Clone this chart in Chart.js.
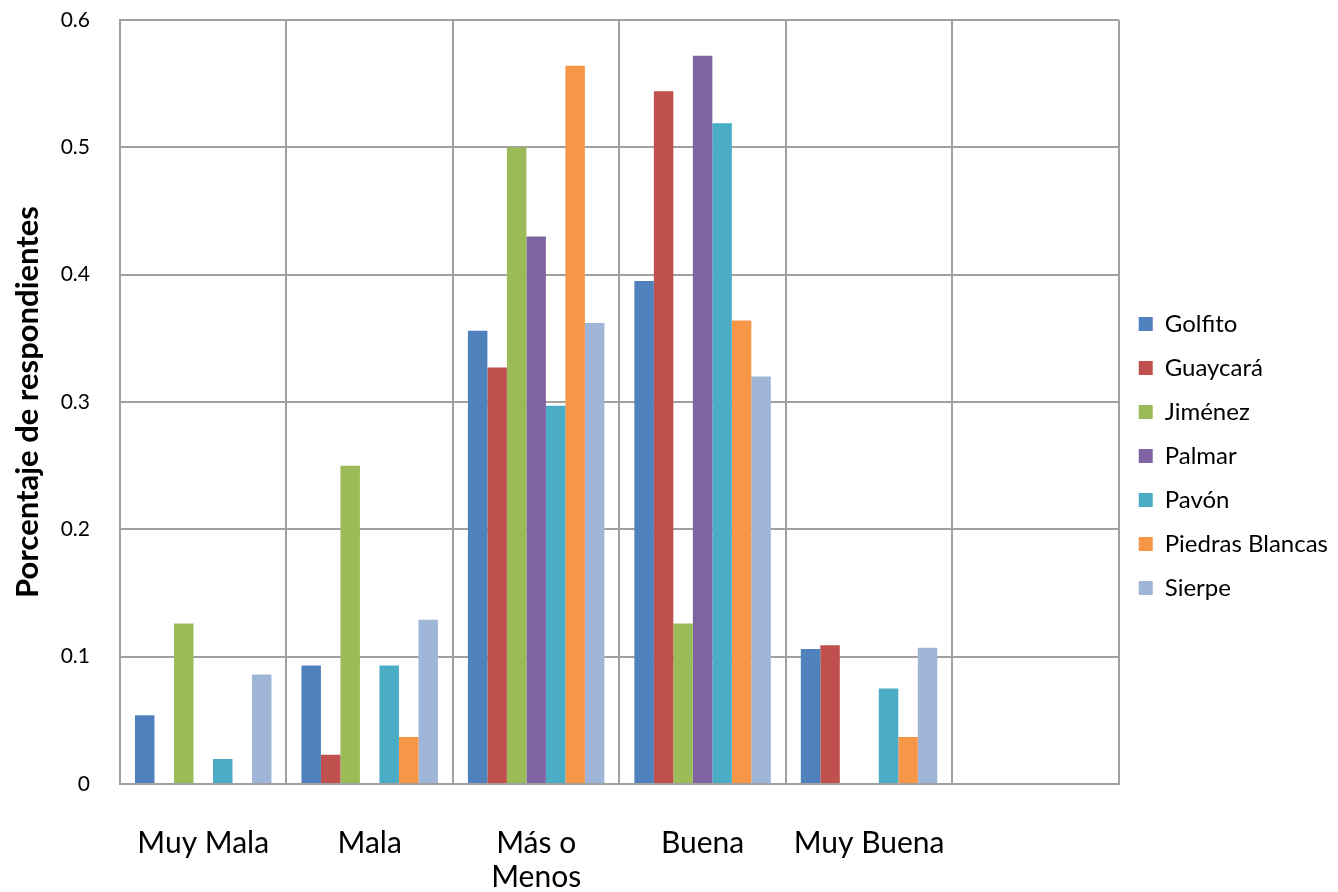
<!DOCTYPE html>
<html>
<head>
<meta charset="utf-8">
<script src="https://cdn.jsdelivr.net/npm/chart.js@4/dist/chart.umd.min.js"></script>
<style>
  body { margin: 0; background: #fff; }
  #wrap { width: 1338px; height: 892px; }
</style>
</head>
<body>
<div id="wrap"><canvas id="chartID"></canvas></div>
<script>
const categories = ['Muy Mala', 'Mala', ['Más o', 'Menos'], 'Buena', 'Muy Buena', '']

const golfito = [0.054, 0.093, 0.356, 0.395, 0.106, null]
const guaycara = [0, 0.023, 0.327, 0.544, 0.109, null]
const jimenez = [0.126, 0.25, 0.5, 0.126, 0, null]
const palmar = [0, 0, 0.43, 0.572, 0, null]
const pavon = [0.0196, 0.093, 0.297, 0.519, 0.075, null]
const piedrasBlancas = [0, 0.037, 0.564, 0.364, 0.037, null]
const sierpe = [0.086, 0.129, 0.362, 0.32, 0.107, null]

const seriesNames = ['Golfito', 'Guaycará', 'Jiménez', 'Palmar', 'Pavón', 'Piedras Blancas', 'Sierpe']
const seriesValues = [golfito, guaycara, jimenez, palmar, pavon, piedrasBlancas, sierpe]
const seriesColors = ['#4F81BD', '#C0504D', '#9BBB59', '#8064A2', '#4BACC6', '#F79646', '#A0B6D8']

const yTicks = [0, 0.1, 0.2, 0.3, 0.4, 0.5, 0.6]

const datasets = seriesNames.map(function(name, i) {
	return {
		label: name,
		data: seriesValues[i],
		backgroundColor: seriesColors[i],
		borderWidth: 0,
		categoryPercentage: 0.82,
		barPercentage: 1.0,
	}
})

const fontFamily = "Lato, 'Open Sans', sans-serif"

let chartCtx = document.getElementById('chartID').getContext('2d')
let barChart = new Chart(chartCtx, {
	type: 'bar',
	data: { labels: categories, datasets: datasets },
	options: {
		responsive: true,
		maintainAspectRatio: false,
		animation: false,
		layout: { padding: { top: 20, right: 0, left: 0, bottom: 0 } },
		plugins: {
			legend: {
				position: 'right',
				align: 'center',
				labels: {
					boxWidth: 14,
					boxHeight: 14,
					padding: 20,
					color: '#000',
					font: { family: fontFamily, size: 24 },
				},
			},
			tooltip: { enabled: false },
		},
		scales: {
			x: {
				offset: true,
				grid: { offset: true, color: '#a0a0a0', lineWidth: 2, drawTicks: false },
				border: { color: '#a0a0a0', width: 2 },
				afterFit: function(scale) { scale.height = 108 },
				ticks: {
					padding: 42,
					color: '#000',
					maxRotation: 0,
					autoSkip: false,
					font: { family: fontFamily, size: 30, lineHeight: 1.15 },
				},
			},
			y: {
				min: 0,
				max: 0.6,
				afterBuildTicks: function(axis) {
					axis.ticks = yTicks.map(function(v) { return { value: v } })
				},
				afterFit: function(scale) {
					scale.width = 120
					scale.paddingTop = 12
					scale.paddingBottom = 12
				},
				grid: { color: '#a0a0a0', lineWidth: 2, drawTicks: false },
				border: { color: '#a0a0a0', width: 2 },
				ticks: {
					padding: 30,
					color: '#000',
					font: { family: fontFamily, size: 21 },
					callback: function(v) { return String(v) },
				},
				title: {
					display: true,
					text: 'Porcentaje de respondientes',
					color: '#000',
					padding: { top: 12, bottom: 0 },
					font: { family: fontFamily, size: 31, weight: 'bold', lineHeight: 1.0 },
				},
			},
		},
	},
})
</script>
</body>
</html>
